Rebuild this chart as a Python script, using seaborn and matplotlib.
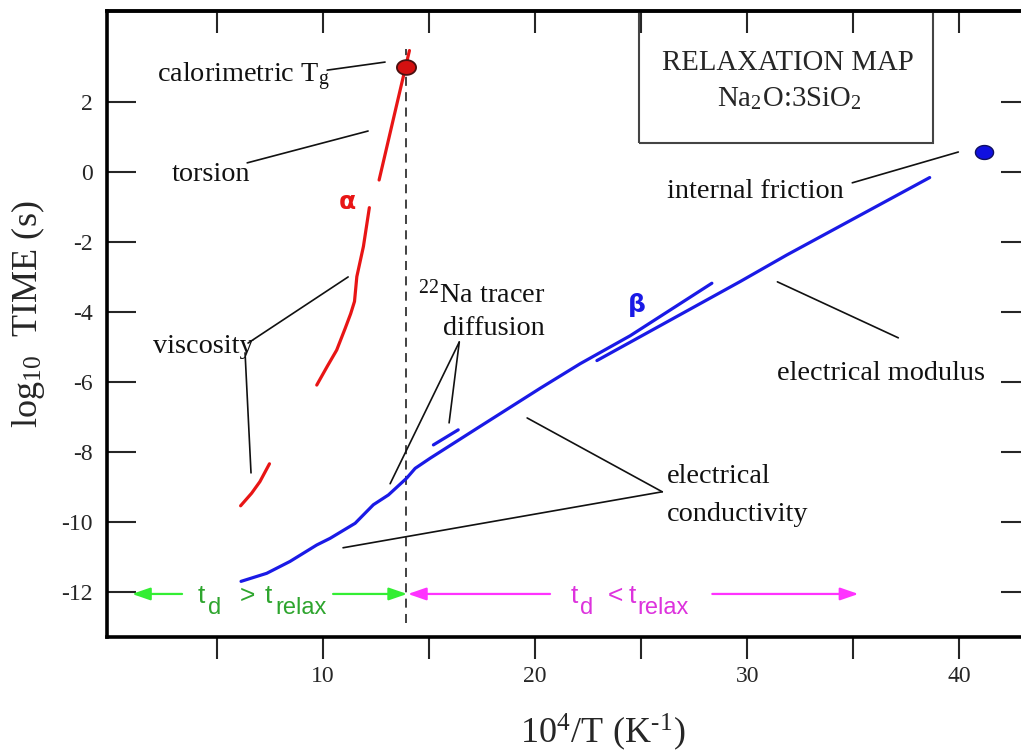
import numpy as np
import pandas as pd
import matplotlib
matplotlib.use("Agg")
import matplotlib.pyplot as plt
from matplotlib.path import Path
from matplotlib.patches import Rectangle
from matplotlib.ticker import FixedLocator, FuncFormatter
import seaborn as sns

# ---- relaxation data: log10(time / s) against 10^4/T (K^-1) ----
# alpha (structural) processes
torsion_x = [12.64, 13.45, 14.07]
torsion_y = [-0.23, 1.87, 3.47]
viscosity_hi_x = [9.70, 10.20, 10.64, 11.04, 11.30, 11.48, 11.59, 11.90, 12.18]
viscosity_hi_y = [-6.09, -5.55, -5.09, -4.47, -4.05, -3.70, -2.99, -2.13, -1.02]
viscosity_lo_x = [6.11, 6.63, 7.02, 7.47]
viscosity_lo_y = [-9.54, -9.18, -8.85, -8.34]

# beta (ionic) processes
conductivity_x = [6.13, 7.34, 8.44, 9.70, 10.33, 11.51, 12.37, 13.08, 13.94, 14.34, 15.05,
                  17.25, 20.24, 22.12, 24.48, 28.33]
conductivity_y = [-11.70, -11.47, -11.13, -10.66, -10.47, -10.04, -9.51, -9.23, -8.75, -8.47, -8.18,
                  -7.33, -6.18, -5.48, -4.68, -3.18]
modulus_x = [22.91, 29.67, 31.87, 38.60]
modulus_y = [-5.39, -3.13, -2.37, -0.16]
tracer_x = [15.20, 16.37]
tracer_y = [-7.80, -7.37]

# single-point measurements
tg_x, tg_logt = 13.92, 3.00
friction_x, friction_logt = 41.15, 0.58

x_ticks = [5, 10, 15, 20, 25, 30, 35, 40]
y_ticks = [-12, -10, -8, -6, -4, -2, 0, 2]

RED = "#e81515"
BLUE = "#1a1ae6"

segments = [
    ("torsion", "alpha", torsion_x, torsion_y),
    ("viscosity_hi", "alpha", viscosity_hi_x, viscosity_hi_y),
    ("viscosity_lo", "alpha", viscosity_lo_x, viscosity_lo_y),
    ("conductivity", "beta", conductivity_x, conductivity_y),
    ("modulus", "beta", modulus_x, modulus_y),
    ("tracer", "beta", tracer_x, tracer_y),
]
curves = pd.concat(
    [pd.DataFrame({"x": xs, "y": ys, "segment": name, "process": proc})
     for name, proc, xs, ys in segments],
    ignore_index=True,
)

sns.set_style("white")
plt.rcParams.update({
    "font.family": ["Liberation Serif", "DejaVu Serif"],
    "mathtext.fontset": "stix",
    "axes.unicode_minus": False,
})

fig = plt.figure(figsize=(10.21, 7.53), dpi=100)
ax = fig.add_axes([107 / 1021, 1 - 637 / 753, (1023 - 107) / 1021, (637 - 11) / 753])

sns.lineplot(data=curves, x="x", y="y", hue="process", units="segment",
             estimator=None, sort=False, palette={"alpha": RED, "beta": BLUE},
             linewidth=2.3, legend=False, ax=ax, zorder=3)

# elliptical dot marker
theta = np.linspace(0, 2 * np.pi, 64)
ellipse = Path(np.column_stack([1.3 * np.cos(theta), np.sin(theta)]), closed=True)

sns.scatterplot(x=[tg_x], y=[tg_logt], marker=ellipse, s=190, color="#d41010",
                edgecolor="#4a1010", linewidth=1.3, ax=ax, zorder=5, legend=False)
sns.scatterplot(x=[friction_x], y=[friction_logt], marker=ellipse, s=170, color="#1010e0",
                edgecolor="#101060", linewidth=1.0, ax=ax, zorder=5, legend=False)

# glass transition divider
ax.plot([tg_x, tg_x], [-12.9, 3.5], color="#333333", lw=1.3, ls=(0, (5, 3.5)), zorder=2)

ax.set_xlim(-0.19, 43.0)
ax.set_ylim(-13.29, 4.6)
ax.set_xlabel("")
ax.set_ylabel("")

# axes frame and ticks
for side in ["left", "bottom", "top", "right"]:
    ax.spines[side].set_linewidth(2.6)
    ax.spines[side].set_color("black")

ax.xaxis.set_major_locator(FixedLocator(x_ticks))
ax.xaxis.set_major_formatter(FuncFormatter(lambda v, p: f"{int(v)}" if v % 10 == 0 else ""))
ax.yaxis.set_major_locator(FixedLocator(y_ticks))
ax.yaxis.set_major_formatter(FuncFormatter(lambda v, p: f"{int(v)}"))
ax.tick_params(axis="x", which="major", direction="out", length=16, width=1.5,
               labelsize=17, pad=5, top=False, bottom=True)
ax.tick_params(axis="y", which="major", direction="in", length=21, width=1.5,
               labelsize=17, pad=10, left=True, right=False)

top = ax.secondary_xaxis("top")
top.xaxis.set_major_locator(FixedLocator(x_ticks))
top.tick_params(axis="x", direction="in", length=16, width=1.5, labeltop=False)
top.spines["top"].set_linewidth(2.6)

right = ax.secondary_yaxis("right")
right.yaxis.set_major_locator(FixedLocator(y_ticks))
right.tick_params(axis="y", direction="in", length=16, width=1.5, labelright=False)
right.spines["right"].set_linewidth(2.6)

# axis titles
fig.text(28 / 1021, 1 - 314 / 753, r"log$_\mathregular{10}$  TIME (s)", rotation=90,
         ha="center", va="center", fontsize=26)
fig.text(603 / 1021, 1 - 743 / 753, "10$^\\mathregular{4}$/T (K$^\\mathregular{\u2010 1}$)",
         ha="center", va="baseline", fontsize=26)

# title box
ax.add_patch(Rectangle((24.91, 0.83), 38.77 - 24.91, 6.0, fill=False, lw=1.5,
                       edgecolor="#444444", zorder=1))
ax.text(31.93, 2.91, "RELAXATION MAP", ha="center", va="baseline", fontsize=20.7)
ax.text(32.0, 1.89, r"Na$_\mathregular{2}$O:3SiO$_\mathregular{2}$", ha="center",
        va="baseline", fontsize=20.7)

# labels with leader lines
lab = dict(fontsize=20.3, va="baseline", color="#111111")
ax.text(2.17, 2.57, r"calorimetric T$_\mathregular{g}$", **lab)
ax.text(2.88, -0.26, "torsion", **lab)
ax.text(1.98, -5.17, "viscosity", **lab)
ax.text(14.48, -3.74, r"$^\mathregular{22}$Na tracer", **lab)
ax.text(15.66, -4.66, "diffusion", **lab)
ax.text(26.23, -8.89, "electrical", **lab)
ax.text(26.23, -9.97, "conductivity", **lab)
ax.text(31.42, -5.94, "electrical modulus", **lab)
ax.text(26.23, -0.74, "internal friction", **lab)

ax.text(11.13, -0.86, "\u03b1", color=RED, fontsize=18, fontweight="bold",
        family="DejaVu Sans", ha="center", va="center")
ax.text(24.81, -3.80, "\u03b2", color=BLUE, fontsize=18, fontweight="bold",
        family="DejaVu Sans", ha="center", va="center")

leaders = [
    ((10.19, 2.91), (12.92, 3.14)),
    ((6.42, 0.26), (12.12, 1.17)),
    ((6.46, -4.89), (11.18, -3.00)),
    ((6.32, -5.17), (6.60, -8.60)),
    ((16.42, -4.86), (15.94, -7.17)),
    ((16.42, -4.86), (13.16, -8.91)),
    ((25.99, -9.14), (19.62, -7.03)),
    ((25.99, -9.14), (10.94, -10.74)),
    ((37.12, -4.74), (31.42, -3.14)),
    ((34.95, -0.31), (39.95, 0.57)),
]
for (x0, y0), (x1, y1) in leaders:
    ax.plot([x0, x1], [y0, y1], color="#111111", lw=1.2, zorder=2)

# time-scale regime arrows
def arrow(tail, tip, color):
    ax.annotate("", xy=tip, xytext=tail,
                arrowprops=dict(arrowstyle="-|>,head_length=1.1,head_width=0.38",
                                color=color, lw=1.6, shrinkA=0, shrinkB=0,
                                mutation_scale=10), zorder=4)

G_ARROW, G_TEXT = "#33ee33", "#2ea52e"
M_ARROW, M_TEXT = "#ff33ff", "#dd33dd"
arrow((3.35, -12.06), (0.99, -12.06), G_ARROW)
arrow((10.47, -12.06), (13.96, -12.06), G_ARROW)
arrow((20.70, -12.06), (14.00, -12.06), M_ARROW)
arrow((28.35, -12.06), (35.24, -12.06), M_ARROW)

sans_main = dict(family="Liberation Sans", fontsize=19, va="baseline")
sans_sub = dict(family="Liberation Sans", fontsize=17, va="baseline")
ax.text(4.06, -12.31, "t", color=G_TEXT, **sans_main)
ax.text(4.58, -12.63, "d", color=G_TEXT, **sans_sub)
ax.text(6.08, -12.31, ">", color=G_TEXT, **sans_main)
ax.text(7.26, -12.31, "t", color=G_TEXT, **sans_main)
ax.text(7.74, -12.63, "relax", color=G_TEXT, **sans_sub)

ax.text(21.65, -12.31, "t", color=M_TEXT, **sans_main)
ax.text(22.12, -12.63, "d", color=M_TEXT, **sans_sub)
ax.text(23.40, -12.31, "<", color=M_TEXT, **sans_main)
ax.text(24.39, -12.31, "t", color=M_TEXT, **sans_main)
ax.text(24.81, -12.63, "relax", color=M_TEXT, **sans_sub)

fig.savefig("out.png", dpi=100)
